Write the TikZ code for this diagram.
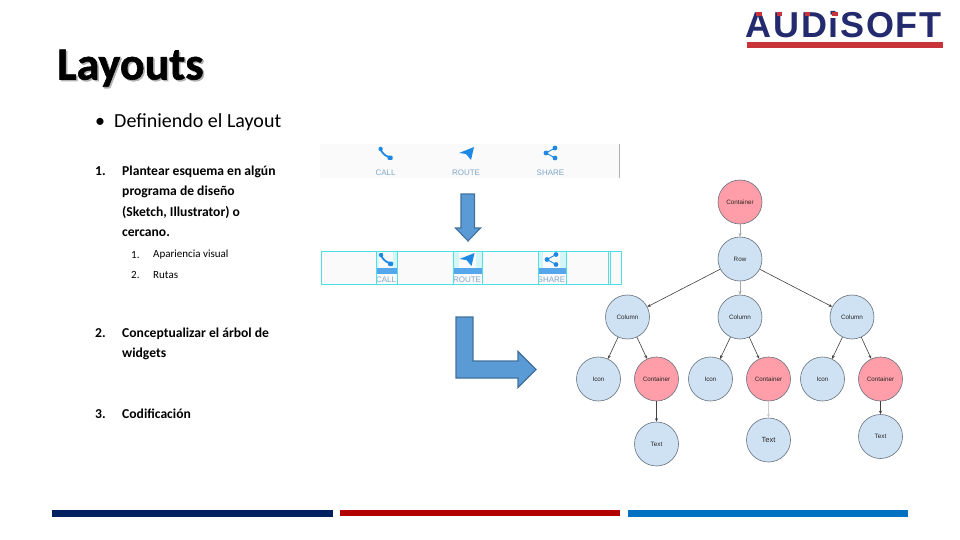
\documentclass[tikz,border=0pt]{standalone}
\usepackage{fontspec}
\setmainfont{Carlito}
\newfontfamily\uifont{Liberation Sans}
\newfontfamily\titlefont[FakeBold=1.2]{Carlito Bold}
\usetikzlibrary{arrows.meta,calc}
\definecolor{blueNode}{HTML}{CFE2F3}
\definecolor{pinkNode}{HTML}{FF9EA8}
\definecolor{nodeLine}{HTML}{66707C}
\definecolor{arrowFill}{HTML}{5B9BD5}
\definecolor{arrowLine}{HTML}{41719C}
\definecolor{iconBlue}{HTML}{1E88E5}
\definecolor{labelBlue}{HTML}{7FA6C9}
\definecolor{wire}{HTML}{4FE0E5}
\definecolor{band}{HTML}{FAFAFA}
\definecolor{navy}{HTML}{232A6E}
\definecolor{logoRed}{HTML}{C8343A}
\definecolor{footNavy}{HTML}{002060}
\definecolor{footRed}{HTML}{B30000}
\definecolor{footBlue}{HTML}{0070C0}
\tikzset{
  x=1pt,y=-1pt,
  tree/.style={circle,draw=nodeLine,line width=.6pt,minimum size=44pt,inner sep=0pt,font=\uifont\fontsize{6.3}{7}\selectfont,text=black!85},
  bluec/.style={tree,fill=blueNode},
  pinkc/.style={tree,fill=pinkNode},
  edge/.style={draw=black!75,line width=.6pt,-{Stealth[length=3.5pt,width=3pt]}},
  bold13/.style={anchor=north west,align=left,font=\bfseries\fontsize{13.6}{20.2}\selectfont,inner sep=0pt,text=black},
  small10/.style={anchor=west,font=\fontsize{11}{12}\selectfont,inner sep=0pt,text=black},
  bigarrow/.style={fill=arrowFill,draw=arrowLine,line width=1.1pt,line join=miter},
  ic/.style={fill=iconBlue,draw=none},
  icl/.style={draw=iconBlue,line width=.9pt},
  uilabel/.style={font=\uifont\fontsize{8}{9}\selectfont,text=labelBlue,inner sep=0pt},
  wireline/.style={draw=wire,line width=.9pt},
  wirefat/.style={fill=iconBlue!75,draw=none}
}
\newcommand{\phoneicon}[2]{%
  \begin{scope}[shift={(#1,#2)}]
    \draw[iconBlue,line width=1.8pt] (-5,-4) .. controls (-3.5,-1) and (-1,2) .. (3,3.5);
    \fill[ic,rounded corners=1pt] (-7,-6.5) rectangle (-3,-2.5);
    \fill[ic,rounded corners=1pt] (2,2.2) rectangle (7,6.5);
  \end{scope}}
\newcommand{\routeicon}[2]{%
  \fill[ic] ($(#1,#2)+(7.5,-6.5)$) -- ($(#1,#2)+(-7.5,-.5)$) -- ($(#1,#2)+(-.5,.5)$) -- ($(#1,#2)+(4.5,6.5)$) -- cycle;}
\newcommand{\shareicon}[2]{%
  \begin{scope}[shift={(#1,#2)}]
    \draw[icl] (4.5,-5) -- (-4.5,0) -- (4.5,5);
    \fill[ic] (4.5,-5) circle (2.4);
    \fill[ic] (-4.5,0) circle (2.4);
    \fill[ic] (4.5,5) circle (2.4);
  \end{scope}}
\begin{document}
\begin{tikzpicture}
\useasboundingbox (0,0) rectangle (960,540);
\fill[white] (0,0) rectangle (960,540);

% title and text
\node[anchor=base west,inner sep=0pt,font=\titlefont\fontsize{46}{50}\selectfont] (title) at (57,79.5)
  {\rlap{\kern1.5pt\raisebox{-1.5pt}{\color{black!30}Layouts}}Layouts};
\node[anchor=base west,inner sep=0pt,font=\fontsize{20}{22}\selectfont] (bullet) at (95,128) {\textbullet};
\node[anchor=base west,inner sep=0pt,font=\fontsize{20}{22}\selectfont] (lead) at (114,128) {Definiendo el Layout};

\node[bold13] (n1) at (95,166) {1.};
\node[bold13] (t1) at (122,166) {Plantear esquema en algún\\programa de diseño\\(Sketch, Illustrator) o\\cercano.};
\node[small10] (n11) at (131,255) {1.};
\node[small10] (t11) at (153,255) {Apariencia visual};
\node[small10] (n12) at (131,275) {2.};
\node[small10] (t12) at (153,275) {Rutas};
\node[bold13] (n2) at (95,328) {2.};
\node[bold13] (t2) at (122,328) {Conceptualizar el árbol de\\widgets};
\node[bold13] (n3) at (95,409) {3.};
\node[bold13] (t3) at (122,409) {Codificación};

% logo
\node[anchor=base west,inner sep=0pt,text=navy,font=\uifont\bfseries\fontsize{36}{37}\selectfont] (logo) at (745.5,38)
  {\addfontfeatures{LetterSpace=4.7}AUDiSOFT};
\fill[logoRed] (747,42) rectangle (943,48.5);
\fill[logoRed] (756,12) rectangle (762,16);
\fill[logoRed] (777,12) rectangle (782,16);
\fill[logoRed] (805,12) rectangle (810,16);
\fill[logoRed] (832,12) rectangle (838,16);

% top UI band
\fill[band] (320,144) rectangle (620,178);
\draw[black!30,line width=.7pt] (619.5,144) -- (619.5,178);
\phoneicon{385.5}{153.5}
\routeicon{466.5}{153.5}
\shareicon{550.5}{153}
\node[uilabel] (call1) at (385.5,172.5) {CALL};
\node[uilabel] (route1) at (466,172.5) {ROUTE};
\node[uilabel] (share1) at (550.5,172.5) {SHARE};

% down arrow
\path[bigarrow] (461,194) -- (474.5,194) -- (474.5,228) -- (480.5,228) -- (468,241) -- (455.5,228) -- (461,228) -- cycle;

% wire band
\fill[band] (321,251) rectangle (621,284.5);
\fill[wire!25] (376,251) rectangle (397.5,268);
\fill[wire!25] (453,251) rectangle (482,268);
\fill[wire!25] (538,251) rectangle (566,268);
\fill[band] (379,251) rectangle (393,268);
\fill[band] (459,251) rectangle (476,268);
\fill[band] (543,251) rectangle (560,268);
\phoneicon{386}{259.5}
\routeicon{467}{259.5}
\shareicon{551.5}{259.5}
\fill[wirefat] (376,268) rectangle (397.5,274);
\fill[wirefat] (453,268) rectangle (482,274);
\fill[wirefat] (538,268) rectangle (566,274);
\node[uilabel] (call2) at (386,279.5) {CALL};
\node[uilabel] (route2) at (467,279.5) {ROUTE};
\node[uilabel] (share2) at (551.5,279.5) {SHARE};
\draw[wireline] (321,251) rectangle (621,284.5);
\foreach \xa/\xb in {376/397.5,453/482,538/566} \draw[wireline,line width=.7pt] (\xa,251) -- (\xa,284.5) (\xb,251) -- (\xb,284.5);
\draw[wireline,line width=.7pt] (608.5,251) -- (608.5,284.5) (610.5,251) -- (610.5,284.5);

% L arrow
\path[bigarrow] (456,317) -- (473,317) -- (473,361) -- (518,361) -- (518,351.5) -- (536,369.5) -- (518,387.5) -- (518,378) -- (456,378) -- cycle;

% widget tree
\node[pinkc] (root) at (740,202) {Container};
\node[bluec] (row) at (740,259) {Row};
\node[bluec] (c1) at (627.5,317) {Column};
\node[bluec] (c2) at (740,317) {Column};
\node[bluec] (c3) at (852,317) {Column};
\node[bluec] (i1) at (598.5,379) {Icon};
\node[pinkc] (k1) at (656.5,379) {Container};
\node[bluec] (i2) at (710.5,379) {Icon};
\node[pinkc] (k2) at (768.5,379) {Container};
\node[bluec] (i3) at (822.5,379) {Icon};
\node[pinkc] (k3) at (880.5,379) {Container};
\node[bluec] (x1) at (656.5,444) {Text};
\node[bluec,font=\uifont\fontsize{7.5}{8}\selectfont] (x2) at (768.5,440) {Text};
\node[bluec] (x3) at (880.5,436.5) {Text};
\draw[edge,draw=black!35] (root) -- (row);
\draw[edge] (row) -- (c1);
\draw[edge,draw=black!35] (row) -- (c2);
\draw[edge] (row) -- (c3);
\foreach \a/\b in {c1/i1,c1/k1,c2/i2,c2/k2,c3/i3,c3/k3,k1/x1,k3/x3} \draw[edge] (\a) -- (\b);
\draw[edge,draw=black!20] (k2) -- (x2);

% footer bars
\fill[footNavy] (52,510) rectangle (333,517);
\fill[footRed] (340,510) rectangle (620,516);
\fill[footBlue] (628,510) rectangle (908,517);
\end{tikzpicture}
\end{document}
